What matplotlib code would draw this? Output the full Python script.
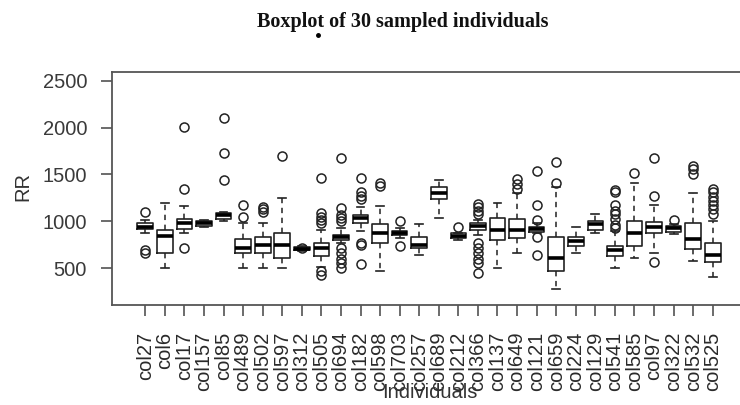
import matplotlib
matplotlib.use('Agg')
import matplotlib.pyplot as plt
from matplotlib.lines import Line2D

# values
labels = ['col27', 'col6', 'col17', 'col157', 'col85', 'col489', 'col502', 'col597',
          'col312', 'col505', 'col694', 'col182', 'col598', 'col703', 'col257', 'col689',
          'col212', 'col366', 'col137', 'col649', 'col121', 'col659', 'col224', 'col129',
          'col541', 'col585', 'col97', 'col322', 'col532', 'col525']
medians = [943, 847, 978, 978, 1067, 712, 748, 748, 705, 712, 829, 1031, 879, 879, 748,
           1304, 843, 953, 907, 907, 914, 613, 790, 971, 694, 879, 935, 925, 811, 641]
q1 = [918, 666, 918, 950, 1030, 659, 666, 606, 690, 630, 801, 978, 765, 854, 712,
      1233, 818, 907, 801, 818, 889, 471, 737, 907, 634, 737, 872, 889, 705, 570]
q3 = [978, 907, 1020, 1003, 1085, 808, 836, 879, 725, 772, 854, 1067, 967, 896, 836,
      1368, 872, 978, 1031, 1020, 942, 836, 836, 1006, 737, 1003, 996, 949, 978, 772]
whislo = [880, 499, 880, 935, 1000, 499, 499, 499, 680, 515, 765, 900, 474, 818, 641,
          1031, 800, 854, 499, 659, 872, 283, 666, 880, 499, 613, 666, 870, 577, 410]
whishi = [1010, 1198, 1166, 1010, 1100, 978, 978, 1244, 735, 907, 925, 1155, 1166, 925, 971,
          1439, 880, 1013, 1198, 1304, 978, 1368, 935, 1077, 900, 1411, 1173, 975, 1304, 1006]
fliers = [
    [1102, 694, 659], [], [2007, 1340, 712], [], [2102, 1730, 1439],
    [1173, 1049], [1155, 1127, 1102], [1698], [712],
    [1467, 1084, 1049, 1013, 978, 474, 428],
    [1670, 1145, 1067, 1040, 1000, 712, 659, 595, 552, 499],
    [1457, 1315, 1269, 1233, 765, 747, 545], [1404, 1375], [1003, 740], [], [],
    [935], [1184, 1148, 1113, 1077, 772, 712, 659, 595, 552, 453], [],
    [1446, 1397, 1350], [1535, 1173, 1013, 836, 641], [1634, 1404], [], [],
    [1333, 1315, 1173, 1113, 1077, 1020, 960, 925], [1510], [1677, 1272, 570],
    [1013], [1588, 1553, 1503], [1350, 1308, 1262, 1219, 1173, 1127, 1077],
]
yticks = [500, 1000, 1500, 2000, 2500]

stats = []
for i in range(len(labels)):
    stats.append({'label': labels[i], 'med': medians[i], 'q1': q1[i], 'q3': q3[i],
                  'whislo': whislo[i], 'whishi': whishi[i], 'fliers': fliers[i]})

plt.rcParams['font.family'] = ['Liberation Sans', 'DejaVu Sans']
fig = plt.figure(figsize=(7.4, 4.05), dpi=100)
ax = fig.add_axes([112 / 740, 1 - 305 / 405, (746 - 112) / 740, (305 - 72) / 405])

ink = '#222222'
pos = list(range(1, len(labels) + 1))
ax.bxp(stats, positions=pos, widths=0.8, capwidths=0.4, showfliers=True,
       boxprops=dict(color=ink, linewidth=1.2),
       medianprops=dict(color='black', linewidth=2.6, solid_capstyle='butt'),
       whiskerprops=dict(color=ink, linewidth=1.1, linestyle=(0, (3.5, 3))),
       capprops=dict(color=ink, linewidth=1.2),
       flierprops=dict(marker='o', markerfacecolor='none', markeredgecolor=ink,
                       markersize=6.5, markeredgewidth=1.1))

ax.set_xlim(-0.7, 31.7)
ax.set_ylim(108, 2592)
ax.set_xticks(pos)
ax.set_xticklabels(labels, rotation=90, fontsize=14.5, color='#2a2a2a')
ax.set_yticks(yticks)
ax.set_yticklabels([str(v) for v in yticks], fontsize=14.5, color='#3a3a3a')
ax.tick_params(axis='x', length=8, width=1.1, color='#444444', pad=11)
ax.tick_params(axis='y', length=8, width=1.1, color='#444444', pad=10)
for s in ax.spines.values():
    s.set_color('#555555')
    s.set_linewidth(1.3)

fig.text(23 / 740, 1 - 187 / 405, 'RR', rotation=90, fontsize=14.5, color='#333333',
         ha='center', va='center')
fig.text(430 / 740, 1 - 393 / 405, 'Individuals', fontsize=14.5, color='#333333',
         ha='center', va='center')
fig.text(403 / 740, 1 - 22 / 405, 'Boxplot of 30 sampled individuals', fontsize=14.5,
         fontweight='bold', family=['Liberation Serif', 'DejaVu Serif'],
         ha='center', va='center', color='#111111')
fig.add_artist(Line2D([318 / 740], [1 - 35 / 405], marker='o', markersize=2.5,
                      color='black', transform=fig.transFigure))

fig.savefig('out.png', dpi=100)
